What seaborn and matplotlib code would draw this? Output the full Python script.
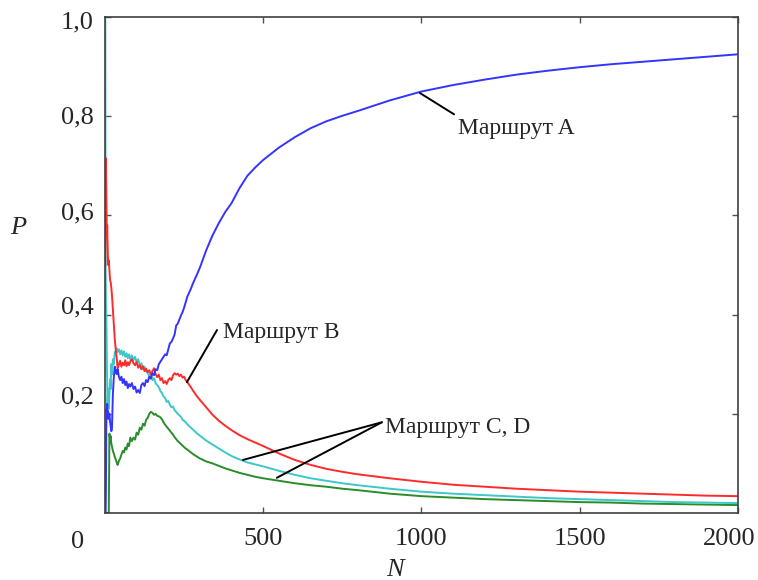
import numpy as np
import pandas as pd
import seaborn as sns
import matplotlib
matplotlib.use('Agg')
from matplotlib import pyplot as plt
from matplotlib.transforms import ScaledTranslation

sns.set_style('ticks')
plt.rcParams['font.family'] = ['Liberation Serif', 'DejaVu Serif']

# ---- values ----
n_steps = [1, 2, 3, 4, 5, 6, 7, 8,
           10, 12, 14, 16, 18, 20, 22,
           25, 28, 31, 34, 37, 40,
           44, 48, 52, 56, 60, 64, 68, 72, 76, 80,
           85, 90, 95, 100, 105, 110, 115, 120, 125, 130,
           135, 140, 145, 150, 155, 160, 165, 170, 175, 180,
           185, 190, 195, 200, 205, 210, 215, 220, 225, 230,
           235, 240, 245, 250, 255, 260,
           270, 280, 290, 300, 320, 340, 360, 380, 400,
           425, 450, 475, 500, 550, 600, 650, 700, 750, 800,
           900, 1000, 1100, 1200, 1300, 1400, 1500, 1600, 1700, 1800, 1900, 2000]

route_a = [0.0, 0.0, 0.05, 0.17, 0.21, 0.19, 0.22, 0.20,
           0.205, 0.19, 0.2, 0.185, 0.175, 0.165, 0.17,
           0.24, 0.275, 0.295, 0.285, 0.28, 0.29,
           0.275, 0.268, 0.275, 0.262, 0.27, 0.258, 0.265, 0.252, 0.26, 0.255,
           0.262, 0.25, 0.255, 0.243, 0.248, 0.242, 0.258, 0.262, 0.256, 0.268,
           0.264, 0.275, 0.271, 0.282, 0.278, 0.29, 0.288, 0.3, 0.305, 0.31,
           0.315, 0.32, 0.318, 0.33, 0.342, 0.345, 0.352, 0.36, 0.378, 0.382,
           0.39, 0.398, 0.405, 0.414, 0.425, 0.436,
           0.45, 0.466, 0.48, 0.495, 0.53, 0.56, 0.585, 0.607, 0.625,
           0.655, 0.68, 0.697, 0.712, 0.737, 0.758, 0.776, 0.79, 0.801, 0.811,
           0.832, 0.850, 0.863, 0.874, 0.884, 0.892, 0.899, 0.905, 0.910, 0.915, 0.920, 0.925]

route_b = [0.50, 0.716, 0.70, 0.66, 0.60, 0.56, 0.58, 0.55,
           0.50, 0.51, 0.49, 0.47, 0.465, 0.455, 0.44,
           0.41, 0.38, 0.35, 0.33, 0.313, 0.292,
           0.30, 0.307, 0.295, 0.303, 0.298, 0.308, 0.296, 0.304, 0.298, 0.306,
           0.31, 0.302, 0.298, 0.305, 0.293, 0.298, 0.29, 0.296, 0.286, 0.291,
           0.284, 0.288, 0.279, 0.286, 0.292, 0.28, 0.274, 0.279, 0.268, 0.272,
           0.262, 0.266, 0.26, 0.268, 0.272, 0.268, 0.278, 0.282, 0.279, 0.281,
           0.276, 0.279, 0.273, 0.275, 0.268, 0.264,
           0.255, 0.245, 0.236, 0.228, 0.213, 0.198, 0.186, 0.176, 0.167,
           0.157, 0.149, 0.142, 0.135, 0.12, 0.107, 0.097, 0.089, 0.083, 0.078,
           0.070, 0.063, 0.057, 0.053, 0.049, 0.046, 0.043, 0.041, 0.039, 0.037, 0.035, 0.034]

route_c = [1.0, 0.50, 0.42, 0.40, 0.37, 0.30, 0.26, 0.22,
           0.25, 0.21, 0.24, 0.27, 0.25, 0.30, 0.28,
           0.31, 0.30, 0.325, 0.318, 0.332, 0.325,
           0.33, 0.32, 0.328, 0.318, 0.326, 0.315, 0.322, 0.312, 0.32, 0.31,
           0.318, 0.308, 0.315, 0.305, 0.31, 0.298, 0.302, 0.29, 0.295, 0.286,
           0.282, 0.276, 0.279, 0.268, 0.272, 0.262, 0.258, 0.254, 0.246, 0.242,
           0.235, 0.232, 0.224, 0.226, 0.218, 0.213, 0.215, 0.207, 0.204, 0.2,
           0.197, 0.194, 0.188, 0.186, 0.183, 0.179,
           0.173, 0.167, 0.161, 0.156, 0.146, 0.138, 0.13, 0.122, 0.115,
           0.108, 0.102, 0.098, 0.094, 0.085, 0.077, 0.07, 0.065, 0.06, 0.056,
           0.049, 0.043, 0.039, 0.036, 0.033, 0.030, 0.028, 0.026, 0.024, 0.022, 0.021, 0.020]

route_d = [0.0, 0.0, 0.0, 0.0, 0.0, 0.0, 0.0, 0.0,
           0.0, 0.0, 0.16, 0.15, 0.155, 0.14, 0.135,
           0.125, 0.12, 0.113, 0.108, 0.102, 0.097,
           0.105, 0.11, 0.118, 0.125, 0.122, 0.132, 0.128, 0.14, 0.135, 0.152,
           0.145, 0.152, 0.148, 0.162, 0.158, 0.172, 0.168, 0.18, 0.176, 0.188,
           0.192, 0.2, 0.204, 0.202, 0.198, 0.2, 0.196, 0.195, 0.193, 0.189,
           0.183, 0.178, 0.174, 0.17, 0.166, 0.162, 0.158, 0.153, 0.149, 0.145,
           0.142, 0.139, 0.136, 0.133, 0.13, 0.128,
           0.123, 0.118, 0.114, 0.11, 0.104, 0.1, 0.095, 0.09, 0.086,
           0.081, 0.077, 0.073, 0.07, 0.065, 0.06, 0.056, 0.053, 0.049, 0.046,
           0.039, 0.034, 0.031, 0.028, 0.026, 0.024, 0.022, 0.021, 0.019, 0.018, 0.017, 0.016]

routes = ['A', 'B', 'C', 'D']
route_colors = {'A': '#3434ff', 'B': '#ff2b2b', 'C': '#3cc8c8', 'D': '#2a8c2a'}
draw_order = ['D', 'C', 'B', 'A']

x_ticks = [500, 1000, 1500, 2000]
x_tick_labels = ['500', '1000', '1500', '2000']
y_ticks = [0.2, 0.4, 0.6, 0.8, 1.0]
y_tick_labels = ['0,2', '0,4', '0,6', '0,8', '1,0']

# ---- long table for seaborn ----
df = pd.DataFrame({
    'N': n_steps * len(routes),
    'P': route_a + route_b + route_c + route_d,
    'route': np.repeat(routes, len(n_steps)),
})

fig = plt.figure(figsize=(7.58, 5.8), dpi=100)
ax = fig.add_axes([0.1385, 0.1155, 0.835, 0.855])

sns.lineplot(data=df, x='N', y='P', hue='route', hue_order=draw_order,
             palette=route_colors, estimator=None, sort=False,
             linewidth=1.4, legend=False, ax=ax)

ax.set_xlim(0, 2000)
ax.set_ylim(0, 1.0)
ax.set_xticks(x_ticks)
ax.set_xticklabels(x_tick_labels)
ax.set_yticks(y_ticks)
ax.set_yticklabels(y_tick_labels)

for side in ['left', 'right', 'top', 'bottom']:
    ax.spines[side].set_visible(True)
    ax.spines[side].set_color('#404040')
    ax.spines[side].set_linewidth(1.2)

ax.tick_params(direction='in', length=4, width=1, color='#505050',
               top=True, right=True, labelsize=19)
ax.tick_params(axis='x', pad=11)
ax.tick_params(axis='y', pad=8)

# the original's tick labels sit a little off their ticks
y_shift_px = [19, 10, 5, 1, -3]
for lbl, dy in zip(ax.get_yticklabels(), y_shift_px):
    lbl.set_transform(lbl.get_transform() + ScaledTranslation(0, dy / 100, fig.dpi_scale_trans))
xlbls = ax.get_xticklabels()
xlbls[-1].set_transform(xlbls[-1].get_transform() + ScaledTranslation(-9 / 100, 0, fig.dpi_scale_trans))

ax.text(-0.043, -0.058, '0', transform=ax.transAxes, ha='center', va='center', fontsize=19)

ax.set_xlabel('N', fontsize=19, fontstyle='italic', va='center')
ax.set_ylabel('P', fontsize=19, fontstyle='italic', rotation=0, va='center', ha='center')
ax.xaxis.set_label_coords(0.458, -0.115)
ax.yaxis.set_label_coords(-0.137, 0.575)

# ---- pointer lines and labels ----
line_kw = dict(arrowstyle='-', color='black', lw=1.4, shrinkA=0, shrinkB=0)
ax.annotate('', xy=(995, 0.847), xytext=(1103, 0.804), arrowprops=line_kw)
ax.text(1117, 0.776, 'Маршрут A', fontsize=17, ha='left', va='center')

ax.annotate('', xy=(259, 0.264), xytext=(354, 0.369), arrowprops=line_kw)
ax.text(373, 0.363, 'Маршрут B', fontsize=17, ha='left', va='center')

ax.annotate('', xy=(436, 0.107), xytext=(875, 0.183), arrowprops=line_kw)
ax.annotate('', xy=(543, 0.071), xytext=(875, 0.183), arrowprops=line_kw)
ax.text(885, 0.173, 'Маршрут C, D', fontsize=17, ha='left', va='center')

plt.savefig('out.png', dpi=100)
plt.close(fig)
